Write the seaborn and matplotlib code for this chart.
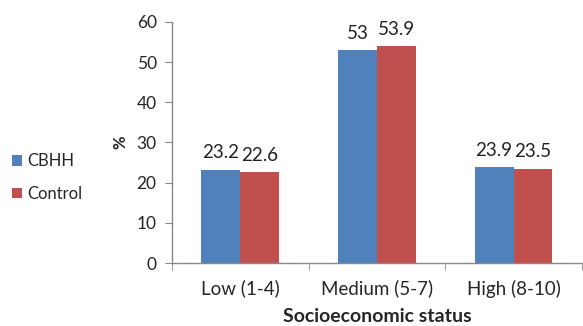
import matplotlib
matplotlib.use("Agg")
import matplotlib.pyplot as plt
import pandas as pd
import seaborn as sns

categories = ['Low (1-4)', 'Medium (5-7)', 'High (8-10)']
groups = ['CBHH', 'Control']
cbhh = [23.2, 53, 23.9]
control = [22.6, 53.9, 23.5]
labels_cbhh = ['23.2', '53', '23.9']
labels_control = ['22.6', '53.9', '23.5']

df = pd.DataFrame({
    'status': categories * 2,
    'group': [groups[0]] * 3 + [groups[1]] * 3,
    'value': cbhh + control,
})

sns.set_style("white")
plt.rcParams['font.family'] = ['Lato', 'DejaVu Sans']

fig = plt.figure(figsize=(5.83, 3.26), dpi=100)
ax = fig.add_axes([0.295, 0.193, 0.703, 0.74])

sns.barplot(data=df, x='status', y='value', hue='group', order=categories,
            hue_order=groups, palette=['#4F81BD', '#C0504D'], width=0.57,
            saturation=1, linewidth=0, ax=ax, legend=True)

# value labels
for cont, labs in zip(ax.containers, [labels_cbhh, labels_control]):
    ax.bar_label(cont, labels=labs, padding=6, fontsize=13.5, color='#222222')

ax.set_ylim(0, 60)
ax.set_yticks(range(0, 61, 10))
ax.set_xlim(-0.5, 2.5)
ax.set_xticks([-0.5, 0.5, 1.5, 2.5], minor=True)
ax.tick_params(axis='x', which='major', length=0, pad=12, labelsize=13.5)
ax.tick_params(axis='x', which='minor', length=5, color='#888888', direction='out', bottom=True)
ax.tick_params(axis='y', length=5, color='#888888', direction='out', left=True, labelsize=12.5, pad=6)

for side in ['top', 'right']:
    ax.spines[side].set_visible(False)
for side in ['left', 'bottom']:
    ax.spines[side].set_color('#888888')
    ax.spines[side].set_linewidth(1)

ax.set_xlabel('Socioeconomic status', fontweight='bold', fontsize=14, labelpad=7)
ax.set_ylabel('%', fontweight='bold', fontsize=12, labelpad=6)

handles, labs = ax.get_legend_handles_labels()
ax.get_legend().remove()
fig.legend(handles, labs, loc='center left', bbox_to_anchor=(-0.005, 0.455),
           frameon=False, fontsize=12, handlelength=0.6, handleheight=0.6,
           handletextpad=0.3, labelspacing=1.0)

fig.savefig('out.png', dpi=100)
